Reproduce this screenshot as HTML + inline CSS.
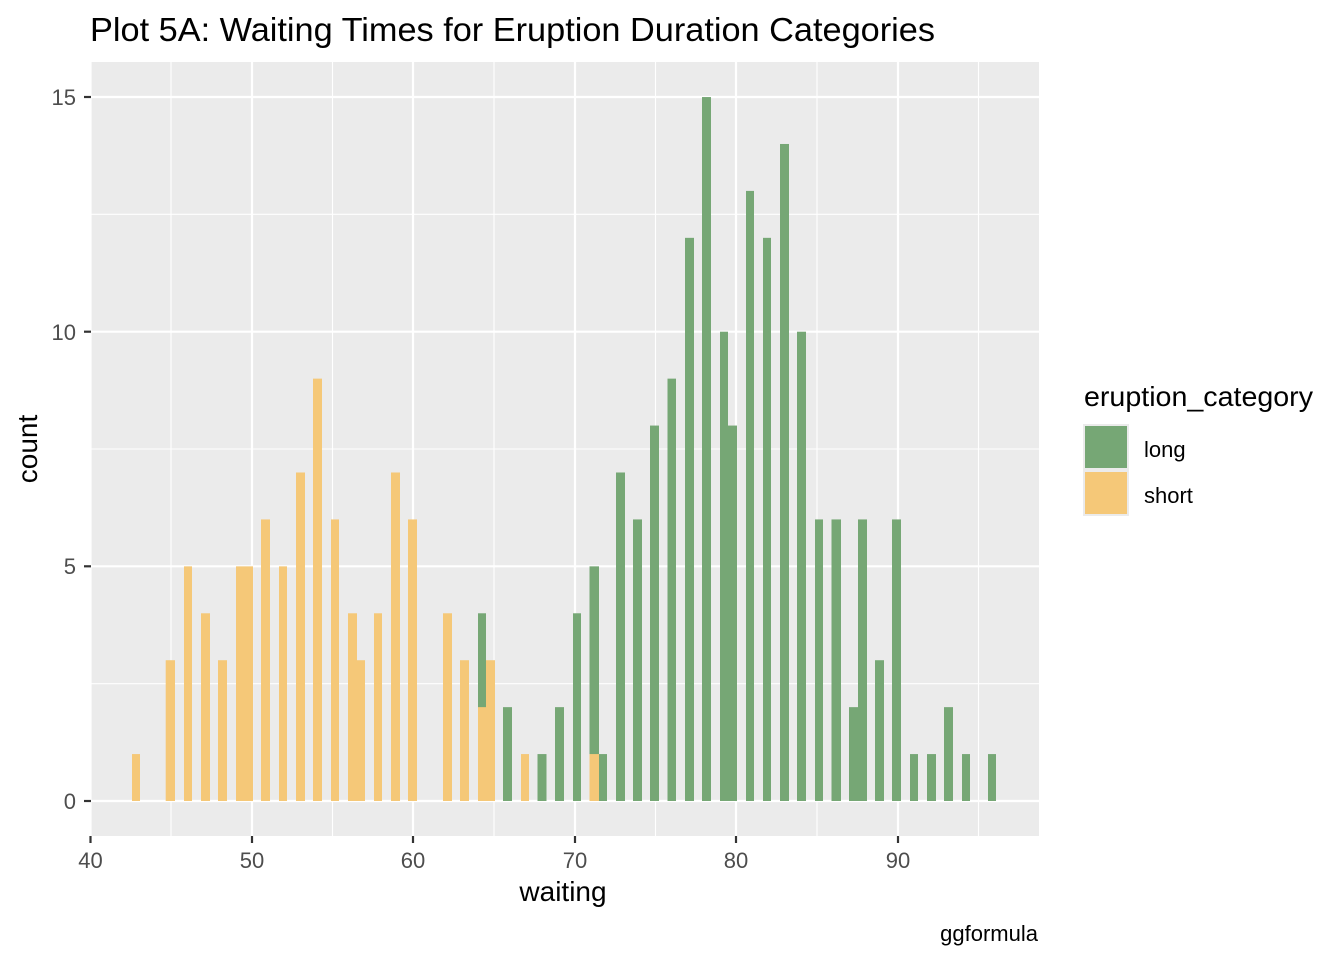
<!DOCTYPE html>
<html><head><meta charset="utf-8"><style>body{margin:0;background:#fff}svg{display:block}</style></head><body>
<svg width="1344" height="960" xmlns="http://www.w3.org/2000/svg" font-family="Liberation Sans, Arial, sans-serif">
<rect width="1344" height="960" fill="#fff"/>
<text x="90" y="41" font-size="33" textLength="845" lengthAdjust="spacingAndGlyphs" fill="#000">Plot 5A: Waiting Times for Eruption Duration Categories</text>
<rect x="91" y="62" width="948" height="774" fill="#ebebeb"/>
<g stroke="#fff" stroke-width="1.1">
<line x1="91" x2="1039" y1="683.7" y2="683.7"/><line x1="91" x2="1039" y1="449" y2="449"/><line x1="91" x2="1039" y1="214.3" y2="214.3"/>
<line y1="62" y2="836" x1="171" x2="171"/><line y1="62" y2="836" x1="332.5" x2="332.5"/><line y1="62" y2="836" x1="494" x2="494"/><line y1="62" y2="836" x1="655.5" x2="655.5"/><line y1="62" y2="836" x1="817" x2="817"/><line y1="62" y2="836" x1="978.5" x2="978.5"/>
</g>
<g stroke="#fff" stroke-width="2.2">
<line x1="91" x2="1039" y1="801" y2="801"/><line x1="91" x2="1039" y1="566.3" y2="566.3"/><line x1="91" x2="1039" y1="331.7" y2="331.7"/><line x1="91" x2="1039" y1="97" y2="97"/>
<line y1="62" y2="836" x1="90.5" x2="90.5"/><line y1="62" y2="836" x1="252" x2="252"/><line y1="62" y2="836" x1="413" x2="413"/><line y1="62" y2="836" x1="575" x2="575"/><line y1="62" y2="836" x1="736" x2="736"/><line y1="62" y2="836" x1="898" x2="898"/>
</g>
<g fill="#76a775">
<rect x="478" y="613.28" width="8" height="187.72"/>
<rect x="503" y="707.14" width="9" height="93.86"/>
<rect x="537.5" y="754.07" width="9" height="46.93"/>
<rect x="555" y="707.14" width="9" height="93.86"/>
<rect x="573" y="613.28" width="8" height="187.72"/>
<rect x="589.5" y="566.35" width="9.5" height="234.65"/>
<rect x="599" y="754.07" width="8" height="46.93"/>
<rect x="616" y="472.49" width="9" height="328.51"/>
<rect x="633" y="519.42" width="9" height="281.58"/>
<rect x="650" y="425.56" width="9" height="375.44"/>
<rect x="667.5" y="378.63" width="8.5" height="422.37"/>
<rect x="685" y="237.84" width="9" height="563.16"/>
<rect x="702" y="97.05" width="9" height="703.95"/>
<rect x="720" y="331.7" width="8" height="469.3"/>
<rect x="728" y="425.56" width="9" height="375.44"/>
<rect x="746" y="190.91" width="8" height="610.09"/>
<rect x="763" y="237.84" width="8" height="563.16"/>
<rect x="780" y="143.98" width="9" height="657.02"/>
<rect x="797" y="331.7" width="9" height="469.3"/>
<rect x="815" y="519.42" width="8" height="281.58"/>
<rect x="831.5" y="519.42" width="9.5" height="281.58"/>
<rect x="849" y="707.14" width="9" height="93.86"/>
<rect x="858" y="519.42" width="9" height="281.58"/>
<rect x="875" y="660.21" width="9" height="140.79"/>
<rect x="892" y="519.42" width="9" height="281.58"/>
<rect x="910" y="754.07" width="8" height="46.93"/>
<rect x="927" y="754.07" width="9" height="46.93"/>
<rect x="944" y="707.14" width="9" height="93.86"/>
<rect x="962" y="754.07" width="8" height="46.93"/>
<rect x="988" y="754.07" width="8" height="46.93"/>
</g>
<g fill="#f5c878">
<rect x="132" y="754.07" width="8" height="46.93"/>
<rect x="165.7" y="660.21" width="9.3" height="140.79"/>
<rect x="184" y="566.35" width="8" height="234.65"/>
<rect x="201" y="613.28" width="9" height="187.72"/>
<rect x="218" y="660.21" width="9" height="140.79"/>
<rect x="236" y="566.35" width="17" height="234.65"/>
<rect x="261" y="519.42" width="9" height="281.58"/>
<rect x="279" y="566.35" width="8" height="234.65"/>
<rect x="296" y="472.49" width="9" height="328.51"/>
<rect x="313" y="378.63" width="9" height="422.37"/>
<rect x="331" y="519.42" width="8" height="281.58"/>
<rect x="348" y="613.28" width="9" height="187.72"/>
<rect x="357" y="660.21" width="8" height="140.79"/>
<rect x="374" y="613.28" width="8" height="187.72"/>
<rect x="391" y="472.49" width="9" height="328.51"/>
<rect x="408" y="519.42" width="9" height="281.58"/>
<rect x="443" y="613.28" width="9" height="187.72"/>
<rect x="460" y="660.21" width="9" height="140.79"/>
<rect x="478" y="707.14" width="8" height="93.86"/>
<rect x="486" y="660.21" width="9" height="140.79"/>
<rect x="521" y="754.07" width="8" height="46.93"/>
<rect x="589.5" y="754.07" width="9.5" height="46.93"/>
</g>
<g fill="#4d4d4d" font-size="22">
<text x="76" y="809" text-anchor="end">0</text><text x="76" y="574" text-anchor="end">5</text><text x="76" y="340" text-anchor="end">10</text><text x="76" y="105" text-anchor="end">15</text>
<text x="90.5" y="868" text-anchor="middle">40</text><text x="252" y="868" text-anchor="middle">50</text><text x="413" y="868" text-anchor="middle">60</text><text x="575" y="868" text-anchor="middle">70</text><text x="736" y="868" text-anchor="middle">80</text><text x="898" y="868" text-anchor="middle">90</text>
</g>
<g stroke="#333" stroke-width="2.2">
<line x1="84" x2="91" y1="801" y2="801"/><line x1="84" x2="91" y1="566.3" y2="566.3"/><line x1="84" x2="91" y1="331.7" y2="331.7"/><line x1="84" x2="91" y1="97" y2="97"/>
<line y1="836" y2="843" x1="90.5" x2="90.5"/><line y1="836" y2="843" x1="252" x2="252"/><line y1="836" y2="843" x1="413" x2="413"/><line y1="836" y2="843" x1="575" x2="575"/><line y1="836" y2="843" x1="736" x2="736"/><line y1="836" y2="843" x1="898" x2="898"/>
</g>
<text x="563" y="901" font-size="28" text-anchor="middle">waiting</text>
<text transform="translate(37,449) rotate(-90)" font-size="28" text-anchor="middle">count</text>
<text x="1038" y="941" font-size="22" text-anchor="end">ggformula</text>
<text x="1084" y="406" font-size="28" textLength="229" lengthAdjust="spacingAndGlyphs">eruption_category</text>
<rect x="1083" y="424" width="46" height="92" fill="#ebebeb"/>
<rect x="1085" y="426" width="42" height="42" fill="#76a775"/>
<rect x="1085" y="472" width="42" height="42" fill="#f5c878"/>
<text x="1144" y="457" font-size="22">long</text>
<text x="1144" y="503" font-size="22">short</text>
</svg>
</body></html>
